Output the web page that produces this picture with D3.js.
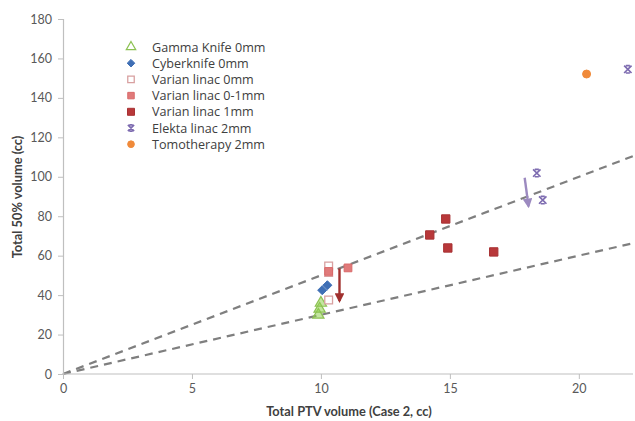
<!DOCTYPE html>
<html><head><meta charset="utf-8">
<script src="https://cdn.jsdelivr.net/npm/d3@7"></script>
<style>body{margin:0;background:#fff}svg{display:block}</style>
</head><body><svg id="c" width="635" height="421"></svg>
<script>
const xTicks = [0, 5, 10, 15, 20];
const yTicks = [0, 20, 40, 60, 80, 100, 120, 140, 160, 180];
const seriesNames = ["Gamma Knife 0mm","Cyberknife 0mm","Varian linac 0mm","Varian linac 0-1mm","Varian linac 1mm","Elekta linac 2mm","Tomotherapy 2mm"];
const gammaKnife = [[9.9,30],[9.95,33],[10.0,36]];
const cyberknife = [[10.05,42.5],[10.25,45]];
const varian0 = [[10.3,54.8],[10.3,51.5],[10.3,37.5]];
const varian01 = [[10.3,52],[11.05,53.8]];
const varian1 = [[14.84,78.6],[14.22,70.5],[14.92,63.9],[16.7,61.9]];
const elekta = [[18.37,101.9],[18.6,88.2],[21.9,154.5]];
const tomo = [[20.3,152.1]];
const refSlopes = [5.0, 3.0];
const arrows = [{from:[10.72,53.5],to:[10.72,37],color:"#a0302e"},{from:[17.9,99.5],to:[18.05,85],color:"#9c8ac0"}];

const svg = d3.select("#c");
const m = {l:63, r:2, t:19, b:47};
const W = 635, H = 421;
const x = d3.scaleLinear().domain([0,22.1]).range([m.l, W-m.r]);
const y = d3.scaleLinear().domain([0,180]).range([H-m.b, m.t]);
const axisCol = "#bfbfbf", txtCol = "#595959";
const font = "Lato, 'Open Sans', sans-serif";

// custom symbols
const diamondSym = {draw(ctx, size){const r=Math.sqrt(size)/2*1.15; ctx.moveTo(0,-r);ctx.lineTo(r,0);ctx.lineTo(0,r);ctx.lineTo(-r,0);ctx.closePath();}};
const xBarSym = {draw(ctx, size){const r=Math.sqrt(size)/2, c=r*0.55; ctx.moveTo(-r,-r);ctx.lineTo(r,r);ctx.moveTo(r,-r);ctx.lineTo(-r,r);
  ctx.moveTo(-c,-r);ctx.lineTo(c,-r);ctx.moveTo(-c,r);ctx.lineTo(c,r);}};

// reference lines
const g = svg.append("g");
refSlopes.forEach(s => {
  g.append("line").attr("x1", x(0)).attr("y1", y(0)).attr("x2", x(22.1)).attr("y2", y(22.1*s))
   .attr("stroke","#7f7f7f").attr("stroke-width",2.2).attr("stroke-dasharray","8,6");
});

// axes
const xa = svg.append("g").attr("transform",`translate(0,${y(0)})`)
  .call(d3.axisBottom(x).tickValues(xTicks).tickSize(5).tickPadding(5));
const ya = svg.append("g").attr("transform",`translate(${x(0)},0)`)
  .call(d3.axisLeft(y).tickValues(yTicks).tickSize(5).tickPadding(6));
[xa,ya].forEach(a=>{
  a.select(".domain").attr("stroke",axisCol).attr("stroke-width",1.2);
  a.selectAll(".tick line").attr("stroke",axisCol);
  a.selectAll(".tick text").attr("fill",txtCol).attr("font-family",font).attr("font-size",12.5);
});
xa.select(".domain").attr("d",`M${x(0)},0H${W-m.r}`);

svg.append("text").attr("x",349).attr("y",416).attr("text-anchor","middle")
  .attr("font-family",font).attr("font-weight","bold").attr("font-size",12.8).attr("fill","#404040")
  .text("Total PTV volume (Case 2, cc)");
svg.append("text").attr("transform","translate(22,197) rotate(-90)").attr("text-anchor","middle")
  .attr("font-family",font).attr("font-weight","bold").attr("font-size",12.8).attr("fill","#404040")
  .text("Total 50% volume (cc)");

// markers
const styles = [
  {data:gammaKnife, sym:d3.symbolTriangle, size:55, fill:"rgba(146,208,80,0.55)", stroke:"#8cc152", sw:1.2, legFill:"#fff"},
  {data:cyberknife, sym:diamondSym, size:62, fill:"#3f6fb5", stroke:"#3f6fb5", sw:1},
  {data:varian0, sym:d3.symbolSquare, size:60, fill:"#fff", stroke:"#d8a0a0", sw:1.3},
  {data:varian01, sym:d3.symbolSquare, size:60, fill:"#e07a7a", stroke:"#d96a6a", sw:1},
  {data:varian1, sym:d3.symbolSquare, size:70, fill:"#b8383a", stroke:"#a83234", sw:1},
  {data:elekta, sym:xBarSym, size:55, fill:"none", stroke:"#7d6bb0", sw:1.7},
  {data:tomo, sym:d3.symbolCircle, size:50, fill:"#f08a3a", stroke:"#f08a3a", sw:1}
];
const pts = svg.append("g");
styles.forEach(st => {
  pts.selectAll(null).data(st.data).enter().append("path")
    .attr("d", d3.symbol(st.sym, st.size))
    .attr("transform", d => `translate(${x(d[0])},${y(d[1])})`)
    .attr("fill", st.fill).attr("stroke", st.stroke).attr("stroke-width", st.sw);
});

// arrows
const defs = svg.append("defs");
arrows.forEach((a,i) => {
  defs.append("marker").attr("id","ah"+i).attr("viewBox","0 0 10 10").attr("refX",8).attr("refY",5)
    .attr("markerWidth",4).attr("markerHeight",4).attr("orient","auto")
    .append("path").attr("d","M0,0L10,5L0,10z").attr("fill",a.color);
  svg.append("line").attr("x1",x(a.from[0])).attr("y1",y(a.from[1])).attr("x2",x(a.to[0])).attr("y2",y(a.to[1]))
    .attr("stroke",a.color).attr("stroke-width",2.4).attr("marker-end",`url(#ah${i})`);
});

// legend
const lg = svg.append("g");
seriesNames.forEach((n,i) => {
  const st = styles[i], yy = 47 + i*16.2;
  lg.append("path").attr("d", d3.symbol(st.sym, st.size*0.7))
    .attr("transform",`translate(131,${yy})`)
    .attr("fill", st.legFill || st.fill).attr("stroke", st.stroke).attr("stroke-width", st.sw);
  lg.append("text").attr("x",152).attr("y",yy+4.5).attr("font-family","'Open Sans', sans-serif").attr("font-size",12.6)
    .attr("fill","#404040").text(n);
});
</script></body></html>
